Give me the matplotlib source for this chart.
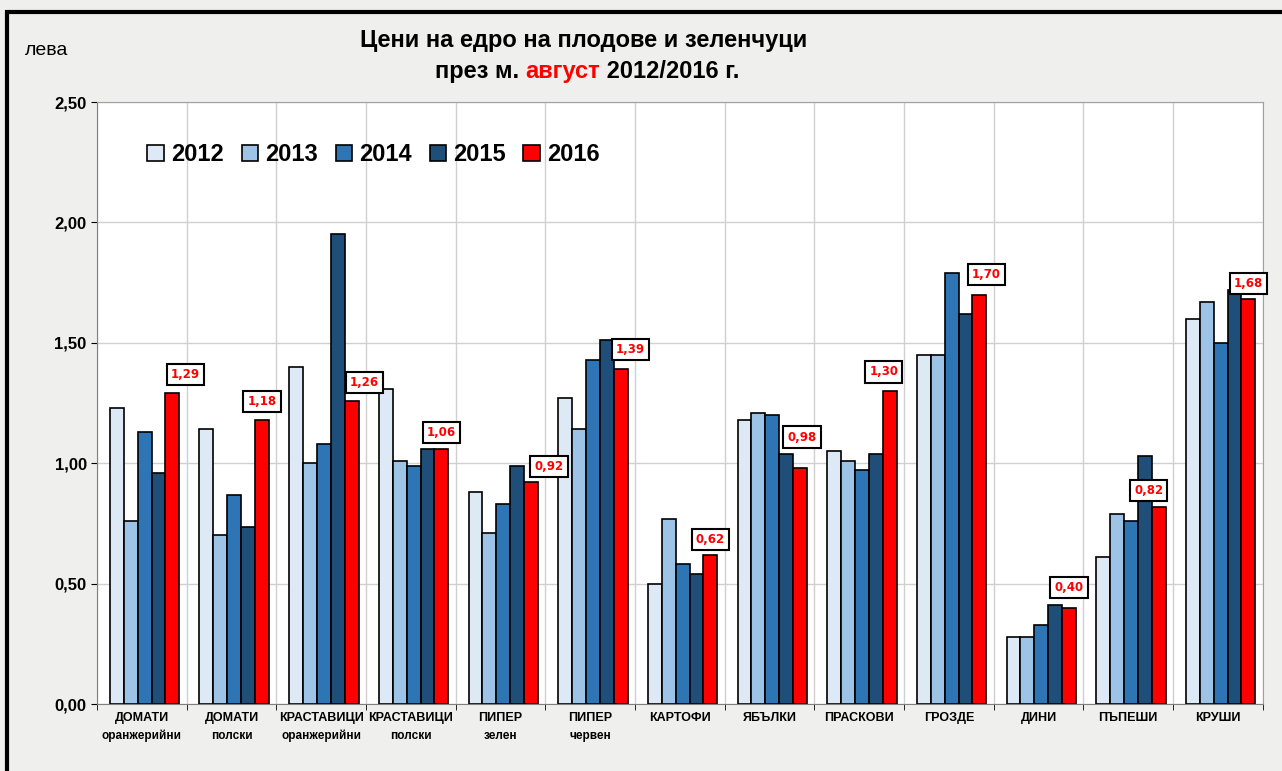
import matplotlib
matplotlib.use('Agg')
import matplotlib.pyplot as plt
from matplotlib.patches import Rectangle
from matplotlib.ticker import FuncFormatter
import numpy as np

plt.rcParams['font.family'] = ['Liberation Sans Narrow', 'Liberation Sans', 'DejaVu Sans']

# categories (two-line labels)
cat_top = ['ДОМАТИ', 'ДОМАТИ', 'КРАСТАВИЦИ', 'КРАСТАВИЦИ', 'ПИПЕР', 'ПИПЕР',
           'КАРТОФИ', 'ЯБЪЛКИ', 'ПРАСКОВИ', 'ГРОЗДЕ', 'ДИНИ', 'ПЪПЕШИ', 'КРУШИ']
cat_sub = ['оранжерийни', 'полски', 'оранжерийни', 'полски', 'зелен', 'червен',
           '', '', '', '', '', '', '']

years = ['2012', '2013', '2014', '2015', '2016']
v2012 = [1.23, 1.14, 1.40, 1.31, 0.88, 1.27, 0.50, 1.18, 1.05, 1.45, 0.28, 0.61, 1.60]
v2013 = [0.76, 0.70, 1.00, 1.01, 0.71, 1.14, 0.77, 1.21, 1.01, 1.45, 0.28, 0.79, 1.67]
v2014 = [1.13, 0.87, 1.08, 0.99, 0.83, 1.43, 0.58, 1.20, 0.97, 1.79, 0.33, 0.76, 1.50]
v2015 = [0.96, 0.735, 1.95, 1.06, 0.99, 1.51, 0.54, 1.04, 1.04, 1.62, 0.41, 1.03, 1.72]
v2016 = [1.29, 1.18, 1.26, 1.06, 0.92, 1.39, 0.62, 0.98, 1.30, 1.70, 0.40, 0.82, 1.68]
series = [v2012, v2013, v2014, v2015, v2016]
colors = ['#DDEAF6', '#9DC3E6', '#2E75B6', '#1F4E79', '#FF0000']

# hand-placed label nudges (pixels), as in the original chart
lab_dx = [13, 0, 13, 0, 18, 10, 0, 2, -6, 7, 0, -10, 0]
lab_dy = [19, 18, 18, 16, 16, 20, 15, 31, 19, 20, 20, 16, 16]

bg = '#EFEFED'
fig = plt.figure(figsize=(12.82, 7.71), dpi=100, facecolor=bg)
ax = fig.add_axes([0.0757, 0.0869, 0.9093, 0.7808])
ax.set_facecolor('white')

x = np.arange(len(cat_top))
w = 0.155
for i, (vals, c) in enumerate(zip(series, colors)):
    ax.bar(x + (i - 2) * w + 0.03, vals, w, color=c, edgecolor='black',
           linewidth=1.2, label=years[i], zorder=3)

# labels for 2016
for xi, v, dx, dy in zip(x, v2016, lab_dx, lab_dy):
    lab = ('%.2f' % v).replace('.', ',')
    ax.annotate(lab, (xi + 2 * w + 0.03, v), xytext=(dx * 0.72, dy * 0.72),
                textcoords='offset points',
                ha='center', va='center', color='red', fontsize=8.5, fontweight='bold',
                family='DejaVu Sans',
                bbox=dict(boxstyle='square,pad=0.35', fc='white', ec='black', lw=1.5),
                zorder=5)

ax.set_xlim(-0.5, len(cat_top) - 0.5)
ax.set_ylim(0, 2.5)
ax.set_yticks(np.arange(0, 2.51, 0.5))
ax.yaxis.set_major_formatter(FuncFormatter(lambda v, p: ('%.2f' % v).replace('.', ',')))
ax.tick_params(axis='y', labelsize=12, length=4)
for t in ax.get_yticklabels():
    t.set_fontweight('bold')
ax.set_xticks(x)
ax.set_xticklabels([])
ax.tick_params(axis='x', length=0)
ax.set_xticks(np.arange(-0.5, len(cat_top)), minor=True)
ax.tick_params(axis='x', which='minor', length=4)
ax.grid(axis='y', color='#D0D0D0', lw=1.0, zorder=0)
ax.grid(axis='x', which='minor', color='#D0D0D0', lw=1.0, zorder=0)
for s in ['top', 'right']:
    ax.spines[s].set_color('#A0A0A0')
ax.spines['left'].set_color('#808080')
ax.spines['bottom'].set_color('#808080')

for xi, t, s in zip(x, cat_top, cat_sub):
    ax.text(xi, -0.014, t, ha='center', va='top', fontsize=9, fontweight='bold',
            transform=ax.get_xaxis_transform())
    if s:
        ax.text(xi, -0.043, s, ha='center', va='top', fontsize=8.5, fontweight='bold',
                transform=ax.get_xaxis_transform())

leg = ax.legend(loc='upper left', bbox_to_anchor=(0.025, 0.967), ncol=5, frameon=False,
                prop={'size': 17, 'weight': 'bold'}, handlelength=0.7, handleheight=0.7,
                columnspacing=0.75, handletextpad=0.3)

fig.text(0.455, 0.948, 'Цени на едро на плодове и зеленчуци', ha='center', va='center',
         fontsize=17, fontweight='bold')
fig.text(0.036, 0.934, 'лева', ha='center', va='center', fontsize=14)

# second title line with red month, centred as a whole
parts = [('през м. ', 'black'), ('август', 'red'), (' 2012/2016 г.', 'black')]
texts = [fig.text(0, 0.907, p, ha='left', va='center', fontsize=17, fontweight='bold',
                  color=c) for p, c in parts]
fig.canvas.draw()
r = fig.canvas.get_renderer()
widths = [t.get_window_extent(r).width / fig.bbox.width for t in texts]
xpos = 0.458 - sum(widths) / 2
for t, wd in zip(texts, widths):
    t.set_x(xpos)
    xpos += wd

fig.patches.append(Rectangle((7 / 1282, -0.05), 1.1, (771 - 12) / 771 + 0.05,
                             transform=fig.transFigure, fill=False, ec='black', lw=3))

fig.savefig('out.png', dpi=100, facecolor=bg)
